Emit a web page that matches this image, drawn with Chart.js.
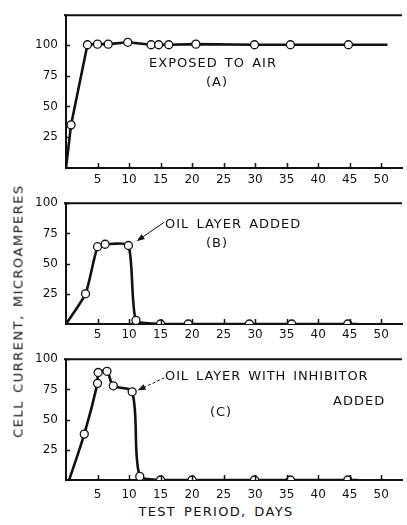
<!DOCTYPE html>
<html><head><meta charset="utf-8">
<script src="https://cdn.jsdelivr.net/npm/chart.js@4.4.0/dist/chart.umd.min.js"></script>
<style>
html,body{margin:0;padding:0;background:#fff;}
#wrap{position:relative;width:407px;height:525px;overflow:hidden;font-family:"DejaVu Sans",sans-serif;color:#111;}
canvas{position:absolute;left:0;}
.t{position:absolute;white-space:nowrap;font-size:13px;letter-spacing:1px;word-spacing:2px;line-height:1;}
.c{transform:translate(-50%,-50%);}
.l{transform:translateY(-50%);}
</style></head><body>
<div id="wrap">
<canvas id="cA" width="407" height="188" style="top:0;width:407px;height:188px"></canvas>
<canvas id="cB" width="407" height="156" style="top:188px;width:407px;height:156px"></canvas>
<canvas id="cC" width="407" height="156" style="top:344px;width:407px;height:156px"></canvas>

<div class="t c" style="left:213px;top:62px">EXPOSED TO AIR</div>
<div class="t c" style="left:217px;top:81px">(A)</div>
<div class="t l" style="left:165px;top:223px">OIL LAYER ADDED</div>
<div class="t c" style="left:217px;top:242px">(B)</div>
<div class="t l" style="left:165px;top:375px;letter-spacing:0.9px">OIL LAYER WITH INHIBITOR</div>
<div class="t l" style="left:333px;top:400px">ADDED</div>
<div class="t c" style="left:221px;top:411px">(C)</div>
<div class="t c" style="left:216px;top:511px;letter-spacing:1.3px;word-spacing:2.5px">TEST PERIOD, DAYS</div>
<div class="t c" style="left:18px;top:311px;transform:translate(-50%,-50%) rotate(-90deg);letter-spacing:1.5px;word-spacing:1.5px">CELL CURRENT, MICROAMPERES</div>
</div>
<script>
// ---- data ----
const xTicks = [5, 10, 15, 20, 25, 30, 35, 40, 45, 50];
const yTicks = [25, 50, 75, 100];

// (A) exposed to air
const daysA    = [0, 0.8, 3.4, 5.0, 6.7, 9.8, 13.5, 14.7, 16.3, 20.6, 29.9, 35.6, 44.8, 51.0];
const currentA = [0, 35, 100, 100.5, 100.5, 102, 100, 100, 100, 100.5, 100, 100, 100, 100];

// (B) oil layer added
const daysB    = [0, 3.1, 5.0, 6.2, 9.9, 11.1, 15.0, 19.4, 29.1, 35.8, 44.7, 46.3];
const currentB = [0, 25, 64, 66, 65, 3, 0, 0, 0, 0, 0, 0];

// (C) oil layer with inhibitor added
const daysC    = [0.5, 2.9, 5.0, 5.1, 6.5, 7.5, 10.5, 11.7, 15.0, 20.0, 29.9, 35.6, 44.7, 46.3];
const currentC = [0, 38, 80, 89, 90, 78, 73, 3, 0, 0, 0, 0, 0, 0];

// ---- rendering ----
Chart.defaults.font.family = '"DejaVu Sans", sans-serif';
Chart.defaults.font.size = 12;
Chart.defaults.color = '#111';

const frame = {
  id: 'frame',
  afterDraw(chart) {
    const {ctx, chartArea: a, scales: {x, y}} = chart;
    ctx.save();
    ctx.strokeStyle = '#111';
    ctx.lineWidth = 2;
    ctx.beginPath();
    ctx.moveTo(a.left - 2, a.top);
    ctx.lineTo(a.right, a.top);
    ctx.stroke();
    ctx.lineWidth = 1.5;
    ctx.beginPath();
    x.ticks.forEach(t => {
      const px = Math.round(x.getPixelForValue(t.value)) + 0.5;
      ctx.moveTo(px, a.bottom);
      ctx.lineTo(px, a.bottom - 5);
    });
    y.ticks.forEach(t => {
      const py = Math.round(y.getPixelForValue(t.value)) + 0.5;
      ctx.moveTo(a.left, py);
      ctx.lineTo(a.left + 4, py);
    });
    ctx.stroke();
    ctx.restore();
  }
};

const arrowNote = {
  id: 'arrowNote',
  afterDraw(chart, args, o) {
    if (!o || !o.tail) return;
    const {ctx, scales: {x, y}} = chart;
    const x1 = x.getPixelForValue(o.tail[0]), y1 = y.getPixelForValue(o.tail[1]);
    const x2 = x.getPixelForValue(o.head[0]), y2 = y.getPixelForValue(o.head[1]);
    const ang = Math.atan2(y2 - y1, x2 - x1);
    ctx.save();
    ctx.strokeStyle = '#111';
    ctx.fillStyle = '#111';
    ctx.lineWidth = 1;
    ctx.setLineDash(o.dash || []);
    ctx.beginPath();
    ctx.moveTo(x1, y1);
    ctx.lineTo(x2 - 5 * Math.cos(ang), y2 - 5 * Math.sin(ang));
    ctx.stroke();
    ctx.setLineDash([]);
    ctx.beginPath();
    ctx.moveTo(x2, y2);
    ctx.lineTo(x2 - 8 * Math.cos(ang) + 3 * Math.sin(ang), y2 - 8 * Math.sin(ang) - 3 * Math.cos(ang));
    ctx.lineTo(x2 - 8 * Math.cos(ang) - 3 * Math.sin(ang), y2 - 8 * Math.sin(ang) + 3 * Math.cos(ang));
    ctx.closePath();
    ctx.fill();
    ctx.restore();
  }
};

function panel(id, days, cur, yMax, padTop, labelPad, tension, arrow) {
  const pts = days.map((d, i) => ({x: d, y: cur[i]}));
  const last = pts.length - 1;
  new Chart(document.getElementById(id), {
    type: 'line',
    data: {datasets: [{
      data: pts,
      borderColor: '#111',
      borderWidth: 2.6,
      tension: tension,
      pointRadius: c => (c.dataIndex === 0 || c.dataIndex === last) ? 0 : 4,
      pointBackgroundColor: '#fff',
      pointBorderColor: '#111',
      pointBorderWidth: 1.3,
      fill: false
    }]},
    options: {
      responsive: false,
      animation: false,
      layout: {padding: {top: padTop, right: 5, left: 0, bottom: 0}},
      plugins: {legend: {display: false}, tooltip: {enabled: false}, arrowNote: arrow || {}},
      scales: {
        x: {
          type: 'linear', min: 0, max: 53.3,
          afterBuildTicks: s => { s.ticks = xTicks.map(v => ({value: v})); },
          afterFit: s => { s.height = 20; },
          grid: {display: false, drawTicks: false},
          border: {display: true, color: '#111', width: 2},
          ticks: {padding: labelPad, maxRotation: 0, autoSkip: false, color: '#111'}
        },
        y: {
          type: 'linear', min: 0, max: yMax,
          afterBuildTicks: s => { s.ticks = yTicks.map(v => ({value: v})); },
          afterFit: s => { s.width = 66; },
          grid: {display: false, drawTicks: false},
          border: {display: true, color: '#111', width: 2},
          ticks: {padding: 8, color: '#111'}
        }
      }
    },
    plugins: [frame, arrowNote]
  });
}

panel('cA', daysA, currentA, 124, 12, 5, 0, null);
panel('cB', daysB, currentB, 100, 12, 4, 0.2, {tail: [15.6, 84.3], head: [11.2, 68.6], dash: []});
panel('cC', daysC, currentC, 100, 11, 8, 0.3, {tail: [15.6, 84.6], head: [11.35, 74.2], dash: [3, 2]});
</script>
</body></html>
